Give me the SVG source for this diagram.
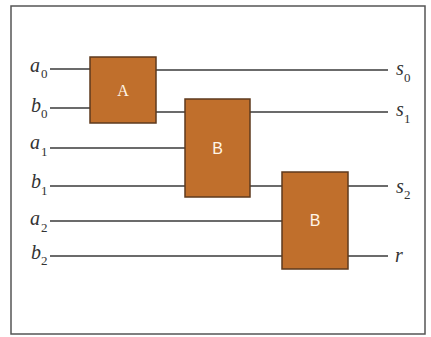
<svg xmlns="http://www.w3.org/2000/svg" width="431" height="337" viewBox="0 0 431 337">
  <style>
    .frame { fill: #ffffff; stroke: #555555; stroke-width: 1.5; }
    .wire { stroke: #3a3a3a; stroke-width: 1.5; fill: none; }
    .block { fill: #c06f2c; stroke: #5e3a1e; stroke-width: 1.5; }
    .blabel { fill: #fff6e8; font-size: 16px; text-anchor: middle; }
    .var { font-family: "Liberation Serif", "Times New Roman", serif; font-style: italic; font-size: 20px; fill: #333333; }
    .sub { font-family: "Liberation Serif", "Times New Roman", serif; font-size: 13px; fill: #333333; }
  </style>
  <rect width="431" height="337" fill="#ffffff"/>
  <rect class="frame" x="11" y="6" width="414" height="328"/>

  <g id="connectors">
    <line class="wire" x1="50" y1="69" x2="90" y2="69"/>
    <line class="wire" x1="156" y1="70" x2="388" y2="70"/>
    <line class="wire" x1="50" y1="108" x2="90" y2="108"/>
    <line class="wire" x1="156" y1="112" x2="185" y2="112"/>
    <line class="wire" x1="250" y1="112" x2="388" y2="112"/>
    <line class="wire" x1="50" y1="148" x2="185" y2="148"/>
    <line class="wire" x1="50" y1="186" x2="185" y2="186"/>
    <line class="wire" x1="250" y1="186" x2="282" y2="186"/>
    <line class="wire" x1="348" y1="186" x2="388" y2="186"/>
    <line class="wire" x1="50" y1="221" x2="282" y2="221"/>
    <line class="wire" x1="50" y1="256" x2="282" y2="256"/>
    <line class="wire" x1="348" y1="256" x2="388" y2="256"/>
  </g>

  <g id="blockA">
    <rect class="block" x="90" y="57" width="66" height="66"/>
    <text class="blabel" x="123" y="96" font-family="Liberation Serif, serif">A</text>
  </g>
  <g id="blockB1">
    <rect class="block" x="185" y="99" width="65" height="98"/>
    <text class="blabel" x="217.5" y="154" font-family="Liberation Sans, sans-serif">B</text>
  </g>
  <g id="blockB2">
    <rect class="block" x="282" y="172" width="66" height="97"/>
    <text class="blabel" x="315" y="226" font-family="Liberation Sans, sans-serif">B</text>
  </g>

  <g id="inputs">
    <text class="var" x="30" y="72">a</text><text class="sub" x="41" y="78">0</text>
    <text class="var" x="31" y="112">b</text><text class="sub" x="41" y="118">0</text>
    <text class="var" x="30" y="149">a</text><text class="sub" x="41" y="156">1</text>
    <text class="var" x="31" y="188">b</text><text class="sub" x="41" y="195">1</text>
    <text class="var" x="30" y="225">a</text><text class="sub" x="41" y="232">2</text>
    <text class="var" x="31" y="259">b</text><text class="sub" x="41" y="265">2</text>
  </g>
  <g id="outputs">
    <text class="var" x="396" y="75">s</text><text class="sub" x="404" y="82">0</text>
    <text class="var" x="396" y="116">s</text><text class="sub" x="404" y="123">1</text>
    <text class="var" x="396" y="193">s</text><text class="sub" x="404" y="199">2</text>
    <text class="var" x="395" y="262">r</text>
  </g>
</svg>
